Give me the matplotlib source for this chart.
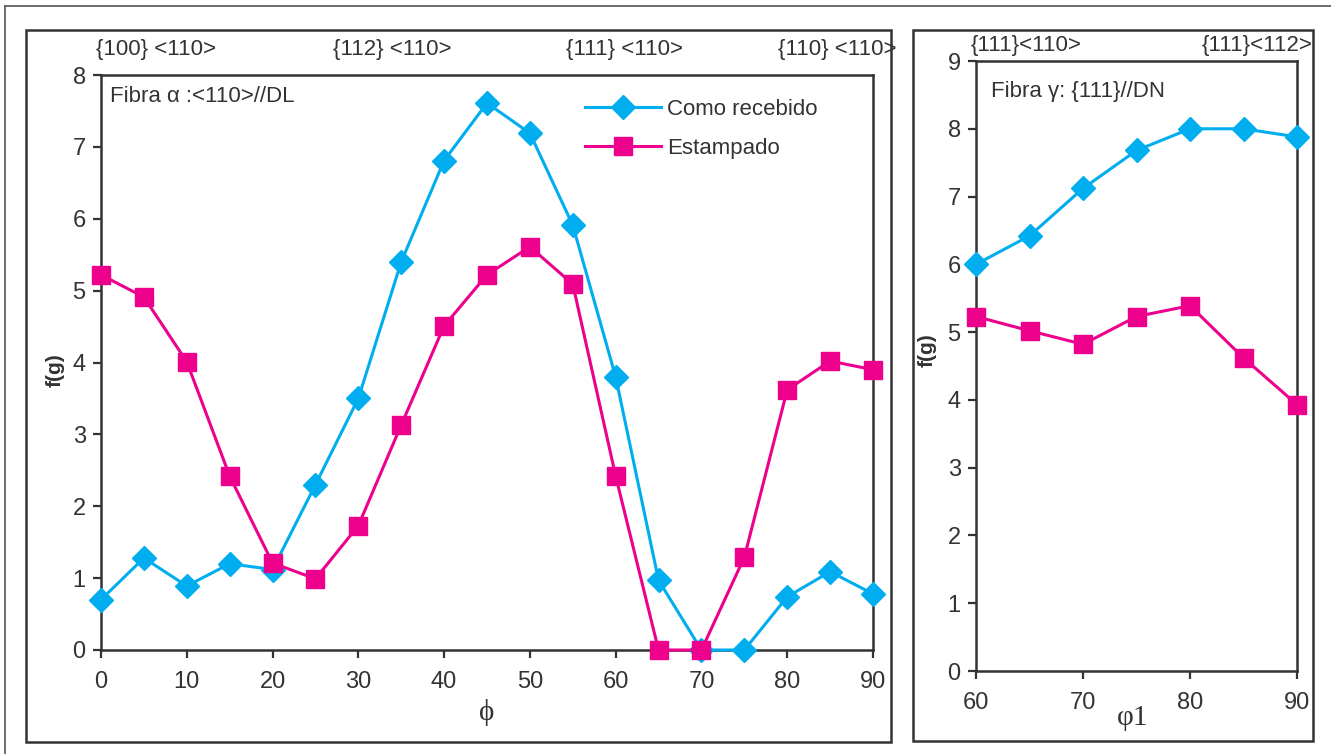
import matplotlib
matplotlib.use("Agg")
import matplotlib.pyplot as plt
from matplotlib.patches import Rectangle
from matplotlib.lines import Line2D

plt.rcParams['font.family'] = ['Liberation Sans', 'DejaVu Sans']

# ---------------- data ----------------
phi = [0, 5, 10, 15, 20, 25, 30, 35, 40, 45, 50, 55, 60, 65, 70, 75, 80, 85, 90]
alpha_recebido = [0.70, 1.28, 0.89, 1.20, 1.12, 2.30, 3.50, 5.40, 6.81, 7.61, 7.19,
                  5.91, 3.80, 0.97, 0.0, 0.0, 0.74, 1.09, 0.78]
alpha_estampado = [5.22, 4.91, 4.01, 2.42, 1.21, 0.99, 1.73, 3.13, 4.51, 5.22, 5.61,
                   5.09, 2.42, 0.0, 0.0, 1.29, 3.62, 4.02, 3.90]

phi1 = [60, 65, 70, 75, 80, 85, 90]
gamma_recebido = [6.00, 6.42, 7.12, 7.68, 8.00, 8.00, 7.88]
gamma_estampado = [5.23, 5.02, 4.82, 5.23, 5.39, 4.62, 3.93]

series_labels = ["Como recebido", "Estampado"]
alpha_top_labels = ["{100} <110>", "{112} <110>", "{111} <110>", "{110} <110>"]
gamma_top_labels = ["{111}<110>", "{111}<112>"]
alpha_title = "Fibra \u03b1 :<110>//DL"
gamma_title = "Fibra \u03b3: {111}//DN"
ylabel = "f(g)"
alpha_xlabel = "\u03d5"
gamma_xlabel = "\u03c61"

# ---------------- style ----------------
W, H = 1331, 754
BLUE = "#00AEEF"
MAG = "#EC008C"
DARK = "#333333"
LABEL_FS = 16

fig = plt.figure(figsize=(W / 100, H / 100), dpi=100)
fig.patch.set_facecolor("white")


def fx(x):
    return x / W


def fy(y):
    return 1 - y / H


def add_axes_px(x0, y0, x1, y1):
    return fig.add_axes([fx(x0), fy(y1), fx(x1) - fx(x0), fy(y0) - fy(y1)])


def frame_px(x0, y0, x1, y1, lw=1.8):
    fig.patches.append(Rectangle((fx(x0), fy(y1)), fx(x1) - fx(x0), fy(y0) - fy(y1),
                                 transform=fig.transFigure, fill=False,
                                 edgecolor=DARK, linewidth=lw))


# outer border (left and top edges visible)
fig.lines.append(Line2D([fx(5), fx(5)], [fy(6), 0], transform=fig.transFigure,
                        color="#555555", linewidth=1.2))
fig.lines.append(Line2D([fx(5), 1], [fy(6), fy(6)], transform=fig.transFigure,
                        color="#555555", linewidth=1.2))

# panel frames
frame_px(26, 30, 891, 742)
frame_px(913, 30, 1313, 741)

line_kw = dict(linewidth=2.2, markeredgewidth=1.0)
D_MS = 12.5
S_MS = 13.5


def style_axes(ax):
    for s in ax.spines.values():
        s.set_linewidth(1.8)
        s.set_color(DARK)
    ax.tick_params(direction="out", length=6, width=1.6, color=DARK,
                   labelsize=17, labelcolor=DARK, pad=5)


# ---------------- left panel ----------------
ax1 = add_axes_px(101, 75, 873, 650)
l1, = ax1.plot(phi, alpha_recebido, color=BLUE, marker="D", markersize=D_MS,
               markerfacecolor=BLUE, markeredgecolor=BLUE, clip_on=False, zorder=3,
               label=series_labels[0], **line_kw)
l2, = ax1.plot(phi, alpha_estampado, color=MAG, marker="s", markersize=S_MS,
               markerfacecolor=MAG, markeredgecolor=MAG, clip_on=False, zorder=4,
               label=series_labels[1], **line_kw)
ax1.set_xlim(0, 90)
ax1.set_ylim(0, 8)
ax1.set_xticks(range(0, 91, 10))
ax1.set_yticks(range(0, 9))
style_axes(ax1)
ax1.tick_params(axis="x", pad=9)

leg = ax1.legend(handles=[l1, l2], loc="upper left",
                 bbox_to_anchor=(fx(585), fy(99)), bbox_transform=fig.transFigure,
                 frameon=False, fontsize=LABEL_FS, handlelength=3.4, handletextpad=0.3,
                 labelspacing=0.82, borderpad=0, borderaxespad=0)
for t in leg.get_texts():
    t.set_color(DARK)

fig.text(fx(110), fy(96), alpha_title, fontsize=LABEL_FS, color=DARK, ha="left", va="center")
for lab, x in zip(alpha_top_labels, [96, 333, 566, 778]):
    fig.text(fx(x), fy(50), lab, fontsize=LABEL_FS, color=DARK, ha="left", va="center")

fig.text(fx(55), fy(370), ylabel, fontsize=15, fontweight="bold", color=DARK,
         rotation=90, ha="center", va="center")
fig.text(fx(487), fy(712), alpha_xlabel, fontsize=21, color=DARK, ha="center", va="center",
         family=["Liberation Serif", "DejaVu Serif"])

# ---------------- right panel ----------------
ax2 = add_axes_px(976, 61, 1297, 671)
ax2.plot(phi1, gamma_recebido, color=BLUE, marker="D", markersize=D_MS,
         markerfacecolor=BLUE, markeredgecolor=BLUE, clip_on=False, zorder=3, **line_kw)
ax2.plot(phi1, gamma_estampado, color=MAG, marker="s", markersize=S_MS,
         markerfacecolor=MAG, markeredgecolor=MAG, clip_on=False, zorder=4, **line_kw)
ax2.set_xlim(60, 90)
ax2.set_ylim(0, 9)
ax2.set_xticks(range(60, 91, 10))
ax2.set_yticks(range(0, 10))
style_axes(ax2)
ax2.tick_params(axis="x", pad=9)

fig.text(fx(991), fy(92), gamma_title, fontsize=LABEL_FS, color=DARK, ha="left", va="center")
fig.text(fx(971), fy(45), gamma_top_labels[0], fontsize=LABEL_FS, color=DARK, ha="left", va="center")
fig.text(fx(1202), fy(45), gamma_top_labels[1], fontsize=LABEL_FS, color=DARK, ha="left", va="center")

fig.text(fx(927), fy(350), ylabel, fontsize=15, fontweight="bold", color=DARK,
         rotation=90, ha="center", va="center")
fig.text(fx(1133), fy(718), gamma_xlabel, fontsize=21, color=DARK, ha="center", va="center",
         family=["Liberation Serif", "DejaVu Serif"])

fig.savefig("out.png", dpi=100)
